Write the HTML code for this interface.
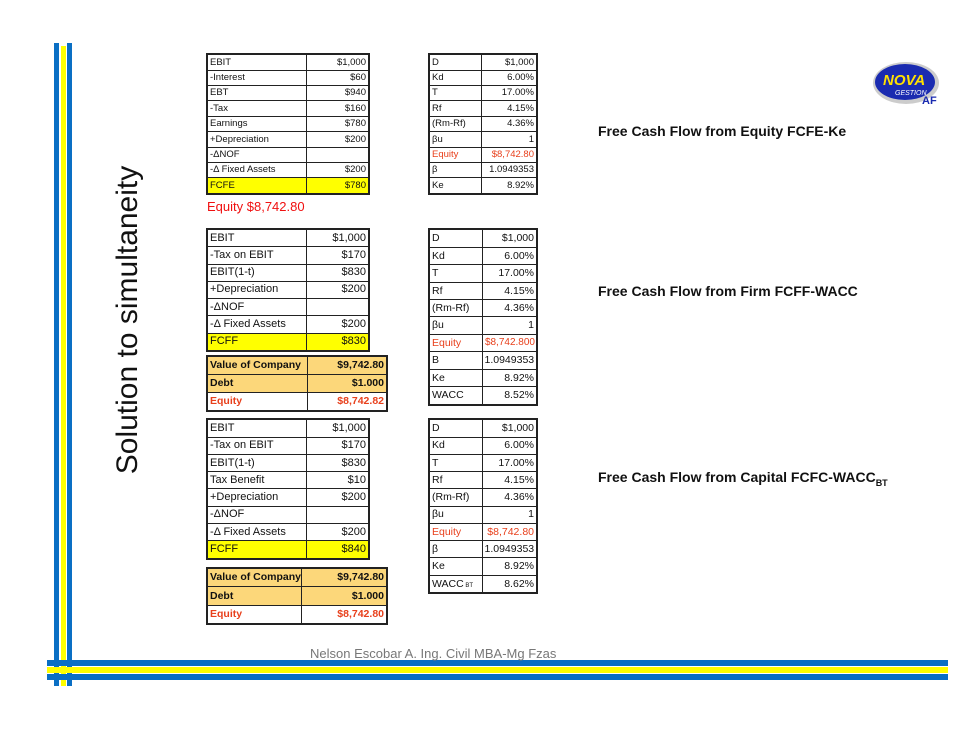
<!DOCTYPE html>
<html><head><meta charset="utf-8"><style>
body{margin:0;width:980px;height:735px;background:#fff;position:relative;overflow:hidden;font-family:"Liberation Sans",sans-serif}
.a{position:absolute}
table{position:absolute;border-collapse:collapse;font-size:10px;color:#111;table-layout:fixed;border:2px solid #222}
td{border:1.5px solid #222;padding:0 2px;line-height:1;white-space:nowrap;overflow:hidden}
td.r{text-align:right}
.y td{background:#ffff00}
.o td{background:#fcd77a;font-weight:bold}
.red{color:#e8401c}
.h{position:absolute;font-weight:bold;font-size:14px;color:#111}
</style></head><body>
<div class="a" style="left:54px;top:43px;width:5px;height:643px;background:#0a6fc4"></div>
<div class="a" style="left:61px;top:46px;width:5px;height:640px;background:#ffff00"></div>
<div class="a" style="left:67px;top:43px;width:5px;height:643px;background:#0a6fc4"></div>
<div class="a" style="left:47px;top:660px;width:901px;height:6px;background:#0a6fc4"></div>
<div class="a" style="left:47px;top:667px;width:901px;height:6px;background:#ffff00"></div>
<div class="a" style="left:47px;top:674px;width:901px;height:6px;background:#0a6fc4"></div>
<div class="a" style="left:310px;top:646px;font-size:13px;color:#777">Nelson Escobar A. Ing. Civil MBA-Mg Fzas</div>
<div class="a" style="left:128px;top:320px;transform:translate(-50%,-50%) rotate(-90deg);font-size:30px;white-space:nowrap;color:#111">Solution to simultaneity</div>
<svg class="a" style="left:870px;top:58px" width="72" height="50"><ellipse cx="36" cy="25" rx="33" ry="21" fill="#ccc"/><ellipse cx="35" cy="24" rx="30" ry="18" fill="#1a2bb0"/><text x="13" y="27" font-size="15" font-weight="bold" font-style="italic" fill="#ffe000" font-family="Liberation Sans">NOVA</text><text x="25" y="37" font-size="7" font-style="italic" fill="#fff" font-family="Liberation Sans">GESTION</text><text x="52" y="46" font-size="11" font-weight="bold" fill="#1a2bb0" font-family="Liberation Sans">AF</text></svg>

<div class="h" style="left:598px;top:123px">Free Cash Flow from Equity FCFE-Ke</div>
<div class="h" style="left:598px;top:283px">Free Cash Flow from Firm FCFF-WACC</div>
<div class="h" style="left:598px;top:469px">Free Cash Flow from Capital FCFC-WACC<sub style="font-size:9px">BT</sub></div>

<table style="left:206px;top:53px;width:164px;height:142px;font-size:9.5px"><col style="width:99px"><col>
<tr><td>EBIT</td><td class="r">$1,000</td></tr><tr><td>-Interest</td><td class="r">$60</td></tr><tr><td>EBT</td><td class="r">$940</td></tr><tr><td>-Tax</td><td class="r">$160</td></tr><tr><td>Earnings</td><td class="r">$780</td></tr><tr><td>+Depreciation</td><td class="r">$200</td></tr><tr><td>-ΔNOF</td><td></td></tr><tr><td>-Δ Fixed Assets</td><td class="r">$200</td></tr><tr class="y"><td>FCFE</td><td class="r">$780</td></tr></table>
<div class="a red" style="left:207px;top:199px;font-size:13px;color:#f01010">Equity $8,742.80</div>

<table style="left:428px;top:53px;width:110px;height:142px;font-size:9.5px"><col style="width:52px"><col>
<tr><td>D</td><td class="r">$1,000</td></tr><tr><td>Kd</td><td class="r">6.00%</td></tr><tr><td>T</td><td class="r">17.00%</td></tr><tr><td>Rf</td><td class="r">4.15%</td></tr><tr><td>(Rm-Rf)</td><td class="r">4.36%</td></tr><tr><td>βu</td><td class="r">1</td></tr><tr><td class="red">Equity</td><td class="r red">$8,742.80</td></tr><tr><td>β</td><td class="r">1.0949353</td></tr><tr><td>Ke</td><td class="r">8.92%</td></tr></table>

<table style="left:206px;top:228px;width:164px;height:124px;font-size:11px"><col style="width:99px"><col>
<tr><td>EBIT</td><td class="r">$1,000</td></tr><tr><td>-Tax on EBIT</td><td class="r">$170</td></tr><tr><td>EBIT(1-t)</td><td class="r">$830</td></tr><tr><td>+Depreciation</td><td class="r">$200</td></tr><tr><td>-ΔNOF</td><td></td></tr><tr><td>-Δ Fixed Assets</td><td class="r">$200</td></tr><tr class="y"><td>FCFF</td><td class="r">$830</td></tr></table>
<table style="left:206px;top:355px;width:182px;height:57px;font-size:10.5px"><col style="width:100px"><col>
<tr class="o"><td>Value of Company</td><td class="r">$9,742.80</td></tr><tr class="o"><td>Debt</td><td class="r">$1.000</td></tr><tr style="font-weight:bold"><td class="red">Equity</td><td class="r red">$8,742.82</td></tr></table>
<table style="left:428px;top:228px;width:110px;height:178px;font-size:10.5px"><col style="width:53px"><col>
<tr><td>D</td><td class="r">$1,000</td></tr><tr><td>Kd</td><td class="r">6.00%</td></tr><tr><td>T</td><td class="r">17.00%</td></tr><tr><td>Rf</td><td class="r">4.15%</td></tr><tr><td>(Rm-Rf)</td><td class="r">4.36%</td></tr><tr><td>βu</td><td class="r">1</td></tr><tr><td class="red">Equity</td><td class="r red" style="padding:0 1px;font-size:10px">$8,742.800</td></tr><tr><td>B</td><td class="r">1.0949353</td></tr><tr><td>Ke</td><td class="r">8.92%</td></tr><tr><td>WACC</td><td class="r">8.52%</td></tr></table>

<table style="left:206px;top:418px;width:164px;height:142px;font-size:11px"><col style="width:99px"><col>
<tr><td>EBIT</td><td class="r">$1,000</td></tr><tr><td>-Tax on EBIT</td><td class="r">$170</td></tr><tr><td>EBIT(1-t)</td><td class="r">$830</td></tr><tr><td>Tax Benefit</td><td class="r">$10</td></tr><tr><td>+Depreciation</td><td class="r">$200</td></tr><tr><td>-ΔNOF</td><td></td></tr><tr><td>-Δ Fixed Assets</td><td class="r">$200</td></tr><tr class="y"><td>FCFF</td><td class="r">$840</td></tr></table>
<table style="left:206px;top:567px;width:182px;height:58px;font-size:10.5px"><col style="width:94px"><col>
<tr class="o"><td>Value of Company</td><td class="r">$9,742.80</td></tr><tr class="o"><td>Debt</td><td class="r">$1.000</td></tr><tr style="font-weight:bold"><td class="red">Equity</td><td class="r red">$8,742.80</td></tr></table>
<table style="left:428px;top:418px;width:110px;height:176px;font-size:10.5px"><col style="width:53px"><col>
<tr><td>D</td><td class="r">$1,000</td></tr><tr><td>Kd</td><td class="r">6.00%</td></tr><tr><td>T</td><td class="r">17.00%</td></tr><tr><td>Rf</td><td class="r">4.15%</td></tr><tr><td>(Rm-Rf)</td><td class="r">4.36%</td></tr><tr><td>βu</td><td class="r">1</td></tr><tr><td class="red">Equity</td><td class="r red">$8,742.80</td></tr><tr><td>β</td><td class="r">1.0949353</td></tr><tr><td>Ke</td><td class="r">8.92%</td></tr><tr><td>WACC<span style="font-size:6px"> BT</span></td><td class="r">8.62%</td></tr></table>
</body></html>
